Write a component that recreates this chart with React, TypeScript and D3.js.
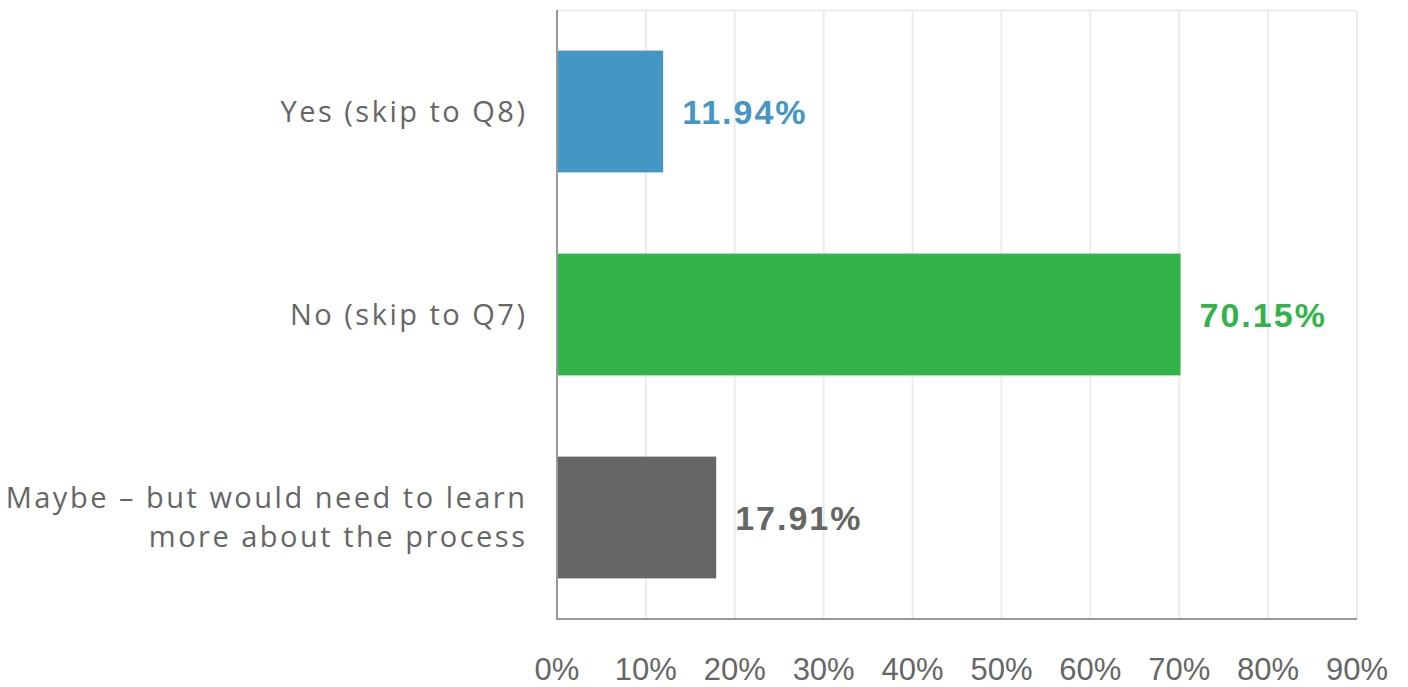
import React from "react";
import * as d3 from "d3";

const categories = ["Yes (skip to Q8)", "No (skip to Q7)", "Maybe – but would need to learn|more about the process"];
const values = [11.94, 70.15, 17.91];
const colors = ["#4596c5", "#33b44a", "#666666"];
const ticks = [0, 10, 20, 30, 40, 50, 60, 70, 80, 90];

export default function App() {
  const W = 1408, H = 687;
  const x0 = 557, x1 = 1357, yTop = 10, yBot = 619;
  const x = d3.scaleLinear().domain([0, 90]).range([x0, x1]);
  const y = d3.scaleBand<string>().domain(categories).range([yTop, yBot]).paddingInner(0.4).paddingOuter(0.2);
  return (
    <div style={{ position: "absolute", left: 0, top: 0 }}>
      <svg width={W} height={H} style={{ display: "block" }}>
        <rect width={W} height={H} fill="#fff" />
        <line x1={x0} x2={x1} y1={yTop + 0.5} y2={yTop + 0.5} stroke="#eeeeee" strokeWidth={2} />
        {ticks.map((t) => (
          <line key={t} x1={x(t)} x2={x(t)} y1={yTop} y2={yBot} stroke="#ececec" strokeWidth={2} />
        ))}
        {categories.map((c, i) => (
          <rect key={c} x={x(0)} y={y(c)} width={x(values[i]) - x(0)} height={y.bandwidth()} fill={colors[i]} />
        ))}
        <line x1={x0} x2={x0} y1={yTop} y2={yBot + 1} stroke="#999" strokeWidth={2} />
        <line x1={x0 - 1} x2={x1} y1={yBot} y2={yBot} stroke="#999" strokeWidth={2} />
        {ticks.map((t) => (
          <text key={t} x={x(t)} y={680} textAnchor="middle" fontFamily="'Liberation Sans', Arial, sans-serif" fontSize={31} fill="#666">
            {t}%
          </text>
        ))}
        {categories.map((c, i) => {
          const lines = c.split("|");
          const cy = (y(c) as number) + y.bandwidth() / 2;
          const lh = 39;
          const start = cy - ((lines.length - 1) * lh) / 2 + 10;
          return (
            <text key={c} textAnchor="end" fontFamily="'Open Sans', sans-serif" fontSize={29} letterSpacing={2.5} fill="#666">
              {lines.map((l, j) => (
                <tspan key={j} x={527.5} y={start + j * lh}>{l}</tspan>
              ))}
            </text>
          );
        })}
        {categories.map((c, i) => (
          <text key={c} x={x(values[i]) + 19} y={(y(c) as number) + y.bandwidth() / 2 + 12.5} fontFamily="'Liberation Sans', Arial, sans-serif" fontWeight="bold" fontSize={34} letterSpacing={2} fill={colors[i]}>
            {values[i].toFixed(2)}%
          </text>
        ))}
      </svg>
    </div>
  );
}
